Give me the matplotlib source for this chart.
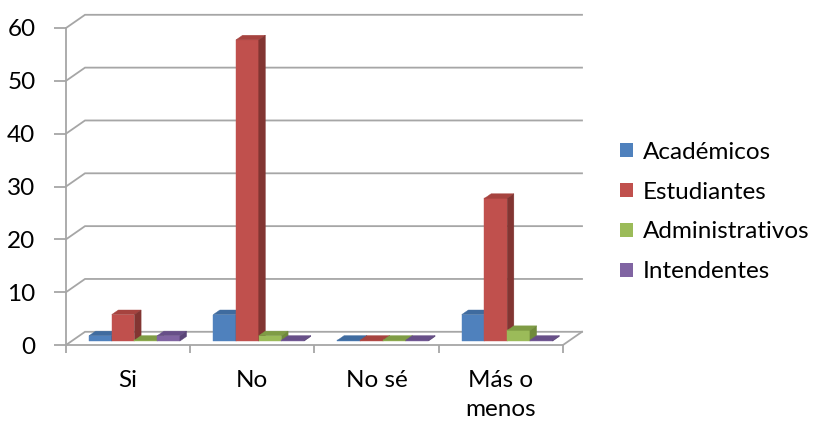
import matplotlib
matplotlib.use("Agg")
import matplotlib.pyplot as plt
from matplotlib.patches import Polygon, Patch
import numpy as np

plt.rcParams['font.family'] = ['Lato', 'DejaVu Sans']

categories = ["Si", "No", "No sé", "Más o\nmenos"]
series = ["Académicos", "Estudiantes", "Administrativos", "Intendentes"]
academicos = [1, 5, 0, 5]
estudiantes = [5, 57, 0, 27]
administrativos = [0, 1, 0, 2]
intendentes = [1, 0, 0, 0]
yticks = [0, 10, 20, 30, 40, 50, 60]

values = [academicos, estudiantes, administrativos, intendentes]
# front / top / side shades for each series
front = ["#4f81bd", "#c0504d", "#9bbb59", "#8064a2"]
top = ["#3f6b9f", "#a6433f", "#7f9c45", "#674f88"]
side = ["#385d8a", "#823532", "#6f8a3a", "#5a4578"]
grid_c = "#a6a6a6"
FS = 17.5

W, H = 826, 422
fig = plt.figure(figsize=(W / 100, H / 100), dpi=100)
# front plane: x 0..4 -> px 66..563, y 0..60 -> px 345..28 (from top)
ax = fig.add_axes([66 / W, (H - 345) / H, 497 / W, 317 / H])
ax.set_xlim(0, len(categories))
ax.set_ylim(0, 60)

# depth offset of the back wall in data units
DX = 19 / 124.25
DY = 13.2 / (317 / 60)


def proj(x, y, d):
    return (x + DX * d, y + DY * d)


def poly(pts, color, z):
    ax.add_patch(Polygon(pts, closed=True, facecolor=color, edgecolor=color,
                         linewidth=0.3, zorder=z, clip_on=False))


# walls: left-side diagonals and back gridlines
for v in yticks:
    x0, y0 = proj(0, v, 0)
    x1, y1 = proj(0, v, 1)
    x2, y2 = proj(len(categories), v, 1)
    ax.plot([x0, x1, x2], [y0, y1, y2], color=grid_c, lw=1.3, zorder=1,
            clip_on=False, solid_joinstyle="miter")
# right edge of the floor
fx0, fy0 = proj(len(categories), 0, 0)
fx1, fy1 = proj(len(categories), 0, 1)
ax.plot([fx0, fx1], [fy0, fy1], color=grid_c, lw=1.3, zorder=1, clip_on=False)

# bars
bw = 0.183
start = 0.139
d0, d1 = 0.3, 0.65
z = 3
for c in range(len(categories)):
    for i, vals in enumerate(values):
        v = max(vals[c], 0.15)
        xa = c + start + i * bw
        xb = xa + bw
        poly([proj(xa, 0, d0), proj(xb, 0, d0), proj(xb, v, d0), proj(xa, v, d0)], front[i], z)
        poly([proj(xa, v, d0), proj(xb, v, d0), proj(xb, v, d1), proj(xa, v, d1)], top[i], z)
        poly([proj(xb, 0, d0), proj(xb, 0, d1), proj(xb, v, d1), proj(xb, v, d0)], side[i], z)
        z += 0.01

# axes, ticks and labels
for s in ["top", "right"]:
    ax.spines[s].set_visible(False)
for s in ["left", "bottom"]:
    ax.spines[s].set_color(grid_c)
    ax.spines[s].set_linewidth(1.3)
ax.patch.set_alpha(0)
ax.set_yticks(yticks)
ax.tick_params(axis="y", length=9, width=1.3, color=grid_c, pad=13,
               labelsize=FS, labelcolor="#000000")
ax.set_xticks(np.arange(len(categories)) + 0.5)
ax.set_xticklabels(categories, linespacing=1.45)
ax.set_xticks(np.arange(len(categories) + 1), minor=True)
ax.tick_params(axis="x", which="major", length=0, pad=18, labelsize=FS)
ax.tick_params(axis="x", which="minor", length=6, width=1.3, color=grid_c)

handles = [Patch(facecolor=front[i], edgecolor="none") for i in range(len(series))]
fig.legend(handles, series, loc="center left", bbox_to_anchor=(620 / W, 1 - 212 / H),
           frameon=False, fontsize=FS, handlelength=0.55, handleheight=0.55,
           handletextpad=0.4, labelspacing=0.78, borderpad=0, borderaxespad=0)

fig.savefig("out.png", dpi=100, facecolor="white")
